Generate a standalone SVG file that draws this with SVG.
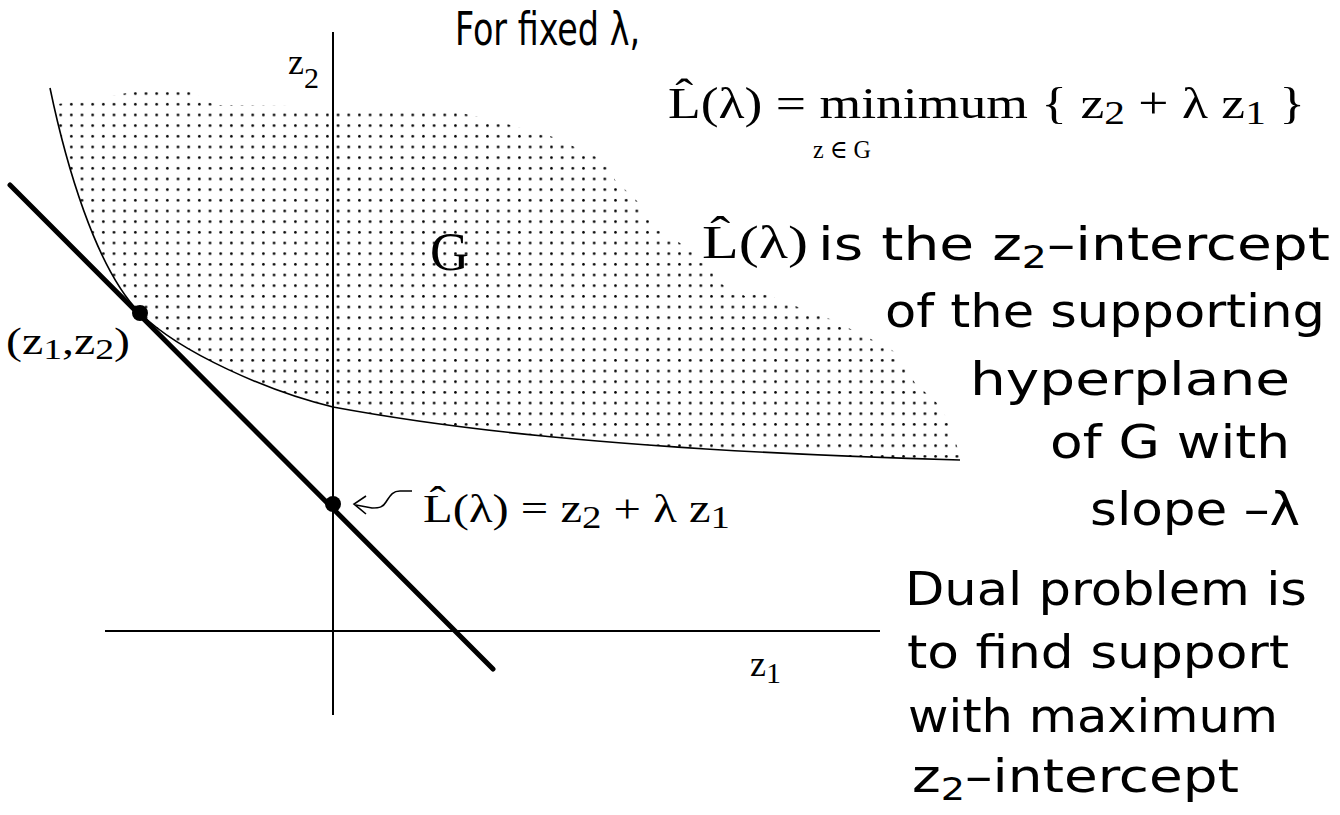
<svg xmlns="http://www.w3.org/2000/svg" width="1340" height="815" viewBox="0 0 1340 815">
<style>
.sans{font-family:"DejaVu Sans Condensed","DejaVu Sans",sans-serif;font-size:46px;fill:#000}
.serif{font-family:"Liberation Serif","DejaVu Serif",serif;fill:#000}
.axis{stroke:#000;stroke-width:2;fill:none}
.thin{stroke:#000;stroke-width:1.6;fill:none}
</style>
<defs>
<pattern id="dots" patternUnits="userSpaceOnUse" x="2" y="3" width="10.67" height="10.67">
<circle cx="5.3" cy="5.3" r="1.35" fill="#000"/>
</pattern>
</defs>
<rect width="1340" height="815" fill="#fff"/>
<g id="region-G">
<path d="M50,88 L58,104 L110,96 L150,89 L188,89 L205,100 L215,105 L440,108 L500,122 L553,137 L603,160 L615,180 L637,201 L658,230 L680,243 L700,258 L723,285 L745,296 L760,292 L790,304 L830,319 L883,345 L895,352 L905,367 L915,383 L937,403 L948,420 L960,455 L960,460 C600,450 430,425 333,407 C270,392 180,353 140,313 C95,268 65,160 50,88 Z" fill="url(#dots)"/>
<path d="M50,88 C65,160 95,268 140,313 C180,353 270,392 333,407 C430,425 600,450 960,460" class="thin"/>
<text class="serif" x="430" y="270" font-size="54">G</text>
</g>
<g id="axes">
<line x1="333" y1="32" x2="333" y2="715" class="axis"/>
<line x1="105" y1="631" x2="880" y2="631" class="axis"/>
<text class="serif" x="288" y="74" font-size="36">z<tspan font-size="30" dy="14">2</tspan></text>
<text class="serif" x="750" y="676" font-size="36">z<tspan font-size="30" dy="7">1</tspan></text>
</g>
<g id="connectors">
<line x1="10" y1="185" x2="493" y2="669" stroke="#000" stroke-width="5" stroke-linecap="round"/>
<path d="M412,491 L400,491 C392,491 390,496 386,502 C383,507 380,508 372,508 L356,505" class="thin"/>
<path d="M366,496 L354,504 L366,514" class="thin"/>
</g>
<g id="point-z">
<circle cx="140" cy="313" r="8" fill="#000"/>
<text class="serif" x="6" y="354" font-size="38" textLength="124" lengthAdjust="spacingAndGlyphs">(z<tspan font-size="30" dy="5">1</tspan><tspan dy="-5">,z</tspan><tspan font-size="30" dy="5">2</tspan><tspan dy="-5">)</tspan></text>
</g>
<g id="point-L">
<circle cx="333" cy="504" r="8" fill="#000"/>
<text class="serif" x="423" y="522" font-size="40" textLength="307" lengthAdjust="spacingAndGlyphs">L̂(λ) = z<tspan font-size="32" dy="6">2</tspan><tspan dy="-6"> + λ z</tspan><tspan font-size="32" dy="6">1</tspan></text>
</g>
<g id="title">
<text class="sans" x="455" y="45" font-size="44" textLength="185" lengthAdjust="spacingAndGlyphs">For fixed  λ,</text>
<text class="serif" x="668" y="118" font-size="44" textLength="637" lengthAdjust="spacingAndGlyphs">L̂(λ) =  minimum { z<tspan font-size="34" dy="6">2</tspan><tspan dy="-6"> + λ z</tspan><tspan font-size="34" dy="6">1</tspan><tspan dy="-6"> }</tspan></text>
<text class="serif" x="813" y="158" font-size="25" textLength="58" lengthAdjust="spacingAndGlyphs">z ∈ G</text>
</g>
<g id="description">
<text class="serif" x="702" y="258" font-size="46" textLength="106" lengthAdjust="spacingAndGlyphs">L̂(λ)</text>
<text class="sans" x="818" y="260" textLength="512" lengthAdjust="spacingAndGlyphs">is the z<tspan font-size="32" dy="8">2</tspan><tspan dy="-8">–intercept</tspan></text>
<text class="sans" x="885" y="327" textLength="440" lengthAdjust="spacingAndGlyphs">of the supporting</text>
<text class="sans" x="970" y="395" textLength="320" lengthAdjust="spacingAndGlyphs">hyperplane</text>
<text class="sans" x="1050" y="458" textLength="240" lengthAdjust="spacingAndGlyphs">of G with</text>
<text class="sans" x="1090" y="525" textLength="210" lengthAdjust="spacingAndGlyphs">slope –λ</text>
</g>
<g id="dual">
<text class="sans" x="905" y="605" textLength="402" lengthAdjust="spacingAndGlyphs">Dual problem is</text>
<text class="sans" x="907" y="668" textLength="382" lengthAdjust="spacingAndGlyphs">to find support</text>
<text class="sans" x="908" y="732" textLength="370" lengthAdjust="spacingAndGlyphs">with maximum</text>
<text class="sans" x="912" y="792" textLength="327" lengthAdjust="spacingAndGlyphs">z<tspan font-size="32" dy="8">2</tspan><tspan dy="-8">–intercept</tspan></text>
</g>
</svg>
